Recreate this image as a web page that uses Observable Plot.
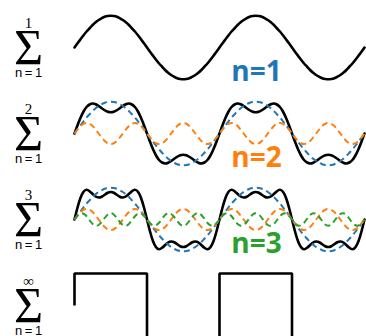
<!DOCTYPE html>
<html><head><meta charset="utf-8">
<script src="https://cdn.jsdelivr.net/npm/d3@7"></script>
<script src="https://cdn.jsdelivr.net/npm/@observablehq/plot@0.6"></script>
<style>html,body{margin:0;padding:0;overflow:hidden;background:#fff}</style>
</head><body><div id="chart"></div>
<script>
// Panels: upper limit of each sum
const panels = ["1", "2", "3", "∞"];
const h1 = [0, .17, .33, .49, .64, .77, .90, 1.01, 1.10, 1.17, 1.23, 1.26, 1.27, 1.26, 1.23, 1.17, 1.10, 1.01, .90, .77, .64, .49, .33, .17,
            0, -.17, -.33, -.49, -.64, -.77, -.90, -1.01, -1.10, -1.17, -1.23, -1.26, -1.27, -1.26, -1.23, -1.17, -1.10, -1.01, -.90, -.77, -.64, -.49, -.33, -.17];
const h3 = [0, .16, .30, .39, .42, .39, .30, .16, 0, -.16, -.30, -.39, -.42, -.39, -.30, -.16,
            0, .16, .30, .39, .42, .39, .30, .16, 0, -.16, -.30, -.39, -.42, -.39, -.30, -.16,
            0, .16, .30, .39, .42, .39, .30, .16, 0, -.16, -.30, -.39, -.42, -.39, -.30, -.16];
const h5 = [0, .15, .24, .23, .13, -.03, -.18, -.25, -.22, -.10, .06, .20, .25, .20, .06, -.10, -.22, -.25, -.18, -.03, .13, .23, .24, .15,
            0, -.15, -.24, -.23, -.13, .03, .18, .25, .22, .10, -.06, -.20, -.25, -.20, -.06, .10, .22, .25, .18, .03, -.13, -.23, -.24, -.15];
// Limit: square wave (x in periods)
const squareX = [0, 0, 0.5, 0.5, 1, 1, 1.5, 1.5, 2];
const squareY = [0, 1.28, 1.28, -1.28, -1.28, 1.28, 1.28, -1.28, -1.28];
const labels = ["n=1", "n=2", "n=3"];
const colors = ["#1f77b4", "#ff7f0e", "#2ca02c"];
const periods = 2;

function tile(values) {
  const n = values.length, out = [];
  for (let p = 0; p < periods; p++) for (let k = 0; k < n; k++) out.push({x: p + k / n, y: values[k]});
  out.push({x: periods, y: values[0]});
  return out;
}
const comps = [h1, h3, h5];
const sumRows = [];
for (let i = 0; i < 3; i++) {
  const s = h1.map((_, k) => comps.slice(0, i + 1).reduce((a, c) => a + c[k], 0));
  tile(s).forEach(d => sumRows.push({...d, panel: panels[i]}));
}
const compRows = [];
for (let i = 1; i < 3; i++) for (let j = 0; j <= i; j++)
  tile(comps[j]).forEach(d => compRows.push({...d, panel: panels[i], harmonic: j}));
const squareRows = squareX.map((x, i) => ({x, y: squareY[i], panel: "∞"}));

const serif = "'Liberation Serif', 'DejaVu Serif', serif";
const sans = "'Liberation Sans', Arial, sans-serif";
const chart = Plot.plot({
  width: 366, height: 349,
  marginTop: 2, marginBottom: 0, marginLeft: 74, marginRight: 2,
  x: {domain: [0, 2], axis: null},
  y: {domain: [-1.72, 1.72], axis: null},
  fy: {domain: panels, axis: null, padding: 0},
  style: {background: "white", overflow: "visible"},
  marks: [
    Plot.line(sumRows, {x: "x", y: "y", fy: "panel", stroke: "black", strokeWidth: 2.6, curve: "natural"}),
    ...colors.map((c, j) => Plot.line(compRows.filter(d => d.harmonic === j),
      {x: "x", y: "y", fy: "panel", stroke: c, strokeWidth: 2, strokeDasharray: "6,4", strokeLinecap: "butt", curve: "natural"})),
    Plot.line(squareRows, {x: "x", y: "y", fy: "panel", stroke: "black", strokeWidth: 2.6, strokeLinejoin: "miter", strokeLinecap: "butt"}),
    Plot.text(panels, {fy: d => d, frameAnchor: "left", dx: -46, text: () => "Σ", fontSize: 50, fontFamily: serif, textAnchor: "middle", lineAnchor: "middle", fill: "black"}),
    Plot.text(panels, {fy: d => d, frameAnchor: "left", dx: -46, dy: -24, text: d => d, fontSize: 15, fontFamily: serif, textAnchor: "middle", lineAnchor: "middle", fill: "black"}),
    Plot.text(panels, {fy: d => d, frameAnchor: "left", dx: -46, dy: 25.5, text: () => "n\u2009=\u20091", fontSize: 13, fontFamily: sans, textAnchor: "middle", lineAnchor: "middle", fill: "black"}),
    ...labels.map((t, i) => Plot.text([t], {fy: () => panels[i], x: 1.255, y: -1.33, text: d => d, fill: colors[i],
      fontSize: 28, fontWeight: "bold", fontFamily: "'Open Sans', sans-serif", lineAnchor: "bottom"}))
  ]
});
document.getElementById("chart").appendChild(chart);
</script>
</body></html>
